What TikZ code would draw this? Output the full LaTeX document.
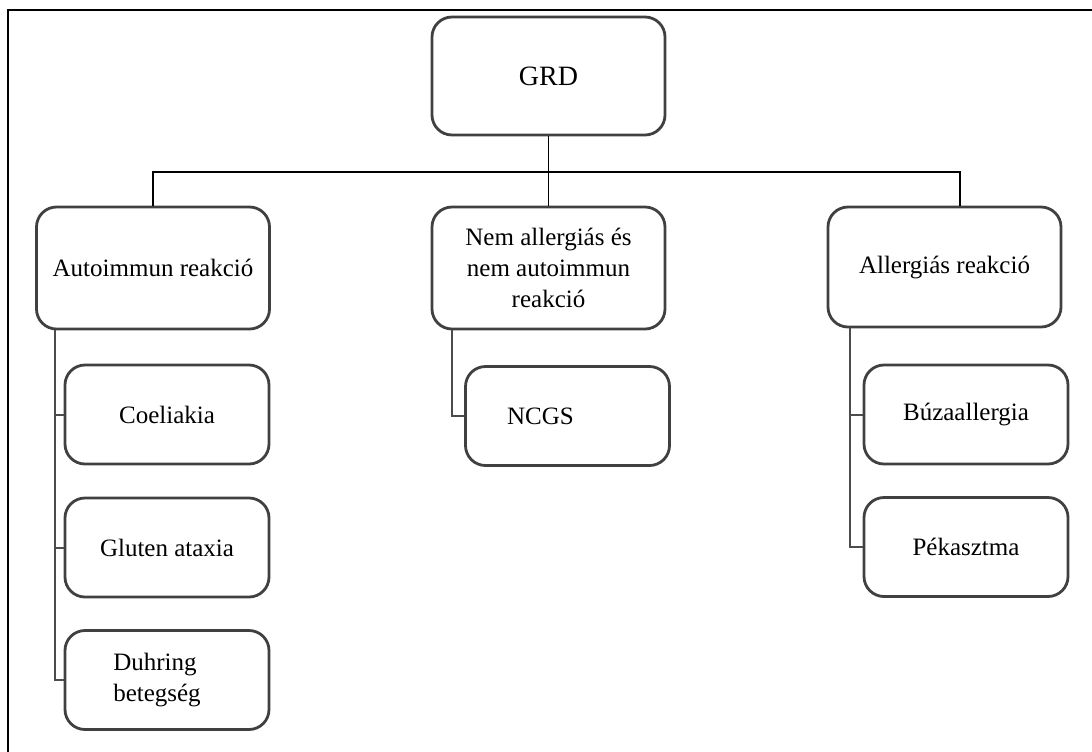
\documentclass[tikz,border=0pt]{standalone}
\usepackage{fontspec}
\setmainfont{Liberation Serif}
\usepackage{tikz}

\begin{document}
\begin{tikzpicture}[x=0.5pt,y=-0.5pt,
    box/.style={draw=black!75,line width=1.4pt,rounded corners=10pt,align=center,
        font=\fontsize{12.5}{15.5}\selectfont,inner sep=2pt},
    bigbox/.style={box,minimum width=116.5pt,minimum height=61pt},
    smallbox/.style={box,minimum width=102pt,minimum height=49.5pt},
    tree/.style={black,line width=0.9pt},
    branch/.style={black!70,line width=1pt}]
\useasboundingbox (0,0) rectangle (1092,751);

% Frame
\draw[line width=1pt] (8,770) -- (8,10) -- (1110,10);

% Top level
\node[bigbox,minimum height=59pt,font=\fontsize{14}{17}\selectfont] (grd) at (548.5,76) {GRD};

% Second level
\node[bigbox] (auto) at (153,268) {Autoimmun reakció};
\node[bigbox] (nem) at (548.5,268) {Nem allergiás és\\nem autoimmun\\reakció};
\node[bigbox,minimum height=60pt] (aller) at (944.5,267) {Allergiás reakció};

% Third level
\node[smallbox] (coel) at (167,414.5) {Coeliakia};
\node[smallbox] (glut) at (167,547.5) {Gluten ataxia};
\node[smallbox,align=left] (duhr) at (167,680) {Duhring\\betegség\hspace*{10pt}};
\node[smallbox] (ncgs) at (567.5,416) {NCGS\hspace*{27pt}};
\node[smallbox] (buza) at (966,414.5) {Búzaallergia};
\node[smallbox] (peka) at (966,547) {Pékasztma};

% Tree
\coordinate (busL) at (153,172);
\coordinate (busR) at (960,172);
\draw[tree] (grd) -- (grd |- busL);
\draw[tree] (auto) -- (busL) -- (busR) -- (busR |- aller.north);
\draw[tree] (nem) -- (nem |- busL);

% Branches
\coordinate (tA) at (55,330);
\coordinate (tN) at (452,330);
\coordinate (tR) at (850,330);
\draw[branch] (tA |- auto.south) -- (tA |- duhr.west) -- (duhr.west);
\foreach \c in {coel,glut}
    \draw[branch] (tA |- \c.west) -- (\c.west);
\draw[branch] (tN |- nem.south) -- (tN |- ncgs.west) -- (ncgs.west);
\draw[branch] (tR |- aller.south) -- (tR |- peka.west) -- (peka.west);
\draw[branch] (tR |- buza.west) -- (buza.west);
\end{tikzpicture}
\end{document}
